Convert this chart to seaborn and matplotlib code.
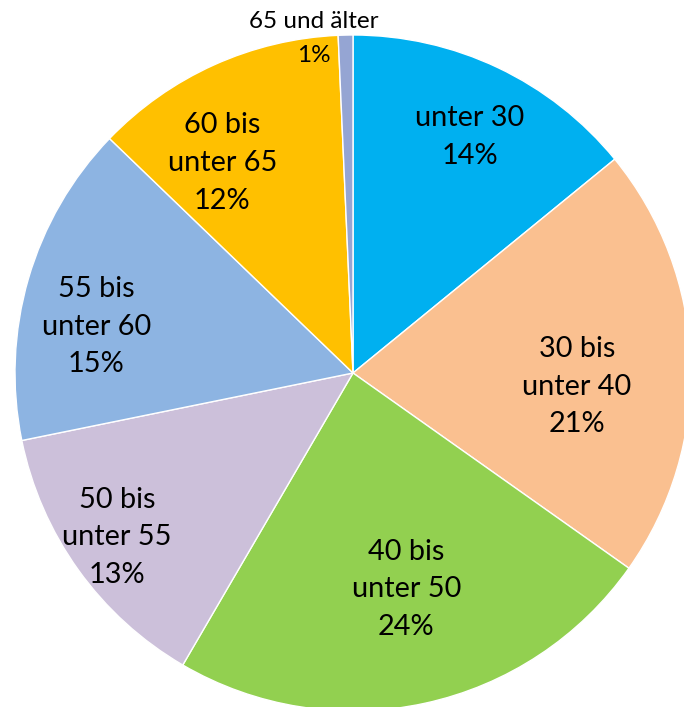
import numpy as np
import matplotlib
matplotlib.use("Agg")
import matplotlib.pyplot as plt
import seaborn as sns

categories = ["unter 30", "30 bis\nunter 40", "40 bis\nunter 50", "50 bis\nunter 55",
              "55 bis\nunter 60", "60 bis\nunter 65", "65 und älter"]
values = [14.1, 20.7, 23.6, 13.4, 15.4, 12.1, 0.7]
colors = ["#00B0F0", "#FAC090", "#92D050", "#CCC0DA", "#8DB4E2", "#FFC000", "#95A5D3"]

# label placement (angle offset from slice middle in degrees, radius factor)
label_angle_offset = [-0.9, -5.5, 1.6, -0.8, 6.0, 7.6]
label_radius = [0.778, 0.664, 0.659, 0.851, 0.772, 0.732]

sns.set_theme(style="white")
plt.rcParams["font.family"] = ["Lato", "DejaVu Sans"]

fig = plt.figure(figsize=(6.84, 7.07), dpi=100)
ax = fig.add_axes([15 / 684, -4 / 707, 676 / 684, 676 / 707])
wedges, _ = ax.pie(values, colors=colors, startangle=90, counterclock=False,
                   radius=1.0, center=(0, 0),
                   wedgeprops=dict(edgecolor="white", linewidth=1.0))
ax.set_xlim(-1, 1)
ax.set_ylim(-1, 1)
ax.axis("off")

total = sum(values)
for i, w in enumerate(wedges):
    pct = f"{values[i] / total * 100:.0f}%"
    mid = (w.theta1 + w.theta2) / 2
    if i < len(label_radius):
        ang = np.deg2rad(mid + label_angle_offset[i])
        r = label_radius[i]
        ax.text(r * np.cos(ang), r * np.sin(ang), f"{categories[i]}\n{pct}",
                ha="center", va="center", fontsize=20.8, color="black",
                linespacing=1.55)
    else:
        ax.text(-39 / 338, 351 / 338, categories[i], ha="center", va="center",
                fontsize=17.5, color="black", clip_on=False)
        ax.text(-39 / 338, 317 / 338, pct, ha="center", va="center",
                fontsize=17.5, color="black", clip_on=False)

fig.savefig("out.png", dpi=100)
